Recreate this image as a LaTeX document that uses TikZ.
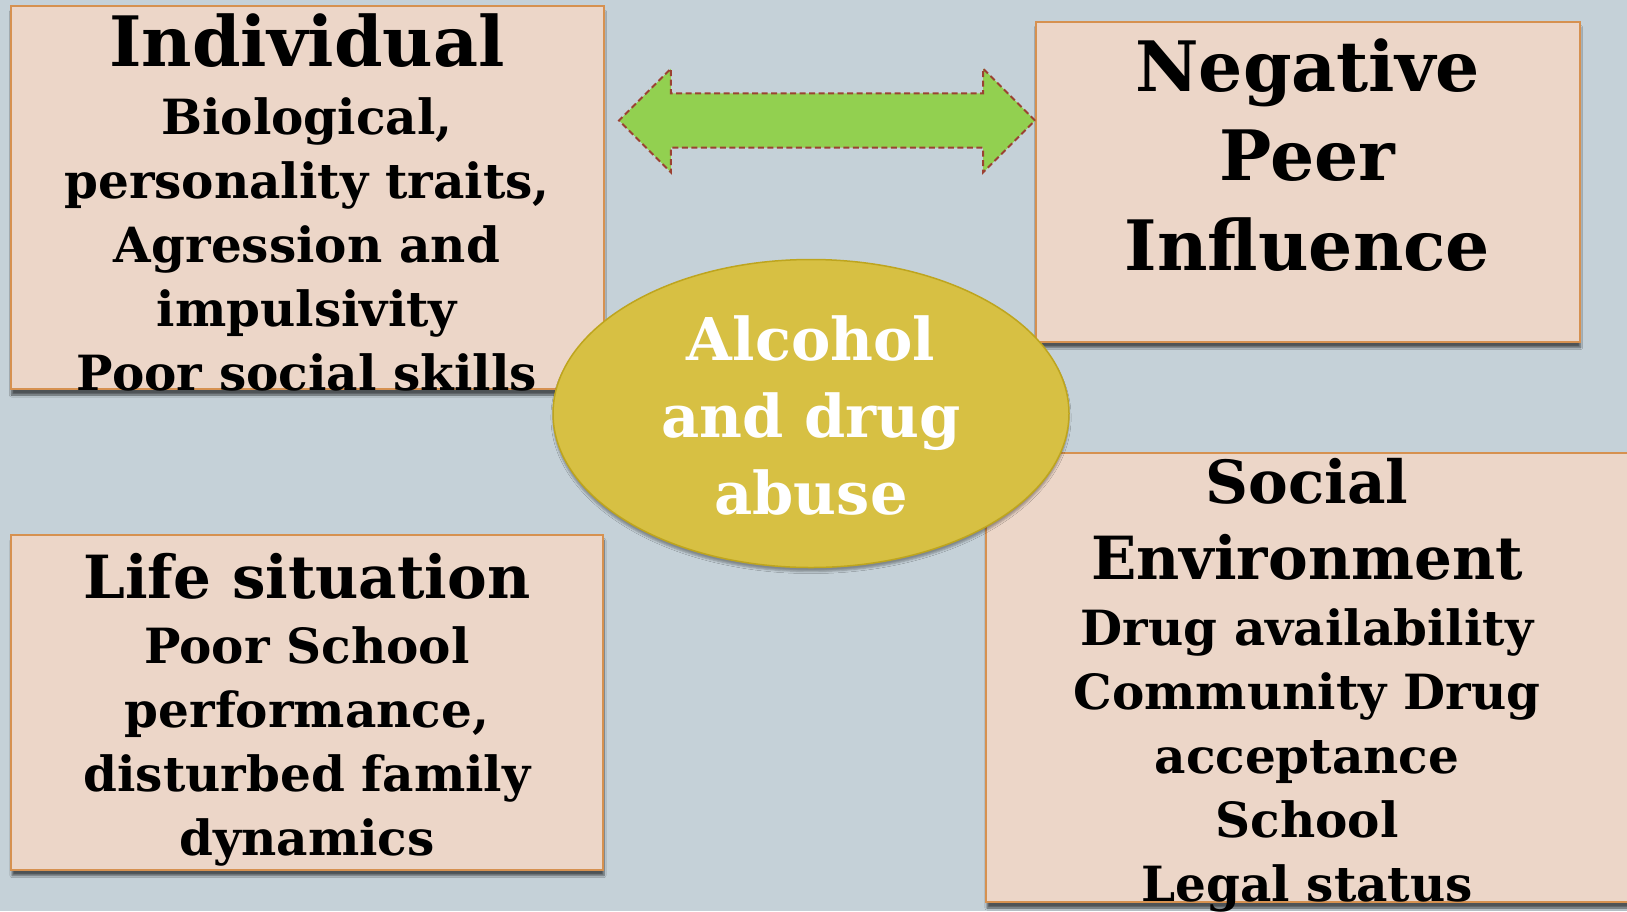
\documentclass[tikz,border=0pt]{standalone}
\usepackage{fontspec}
\setmainfont{DejaVu Serif}
\usepackage{tikz}
\usetikzlibrary{positioning, shapes.geometric, shapes.arrows, shadows.blur}
\definecolor{backdrop}{RGB}{197,209,216}
\definecolor{peach}{RGB}{236,214,200}
\definecolor{rim}{RGB}{214,145,80}
\definecolor{mustard}{RGB}{215,192,67}
\definecolor{mustardrim}{RGB}{190,165,30}
\definecolor{leaf}{RGB}{146,208,80}
\definecolor{rust}{RGB}{155,65,50}
\newcommand{\headsize}{\fontsize{69.5}{89.4}\selectfont}
\newcommand{\subhead}{\fontsize{59.5}{64}\selectfont}

\begin{document}
\begin{tikzpicture}[x=1pt, y=-1pt,
  box/.style={draw=rim, line width=2pt, fill=peach, inner sep=0pt,
    blur shadow={shadow xshift=1pt, shadow yshift=-6pt, shadow opacity=60, shadow blur steps=6}},
  txt/.style={align=center, anchor=north, inner sep=0pt, font=\bfseries\fontsize{48.5}{64}\selectfont}]
\useasboundingbox (0,0) rectangle (1627,911);
\clip (0,0) rectangle (1627,911);
\fill[backdrop] (0,0) rectangle (1627,911);
\node[box, minimum width=593pt, minimum height=383pt] (ind) at (307,197.5) {};
\node[box, minimum width=544pt, minimum height=320pt] (peer) at (1307.5,181.5) {};
\node[box, minimum width=592pt, minimum height=335pt] (life) at (307,702) {};
\node[box, minimum width=644pt, minimum height=449pt] (soc) at (1308,677.5) {};
\node[ellipse, draw=mustardrim, line width=1.5pt, fill=mustard, inner sep=0pt,
  minimum width=516pt, minimum height=308pt,
  blur shadow={shadow xshift=0pt, shadow yshift=-4pt, shadow opacity=35}] (core) at (811,413.5) {};
\node[double arrow, draw=rust, dash pattern=on 6pt off 3.5pt, line width=2pt, fill=leaf,
  minimum height=416pt, inner xsep=0pt, inner ysep=26.2pt,
  double arrow head extend=24.7pt, double arrow tip angle=90] (link) at (827,120.5) {};
\node[txt] (indtxt) at (307,13) {{\headsize Individual}\\[4.6pt]Biological,\\personality traits,\\Agression and\\impulsivity\\Poor social skills};
\node[txt, font=\bfseries\headsize] (peertxt) at (1307.5,38.5) {Negative\\Peer\\Influence};
\node[txt, text=white, font=\bfseries\fontsize{59}{77}\selectfont] (coretxt) at (811,315) {Alcohol\\and drug\\abuse};
\node[txt] (lifetxt) at (307,553) {{\subhead Life situation}\\[1.5pt]Poor School\\performance,\\disturbed family\\dynamics};
\node[txt] (soctxt) at (1307,458) {{\subhead Social}\\[12pt]{\subhead Environment}\\[2pt]Drug availability\\Community Drug\\acceptance\\School\\Legal status};
\end{tikzpicture}
\end{document}
